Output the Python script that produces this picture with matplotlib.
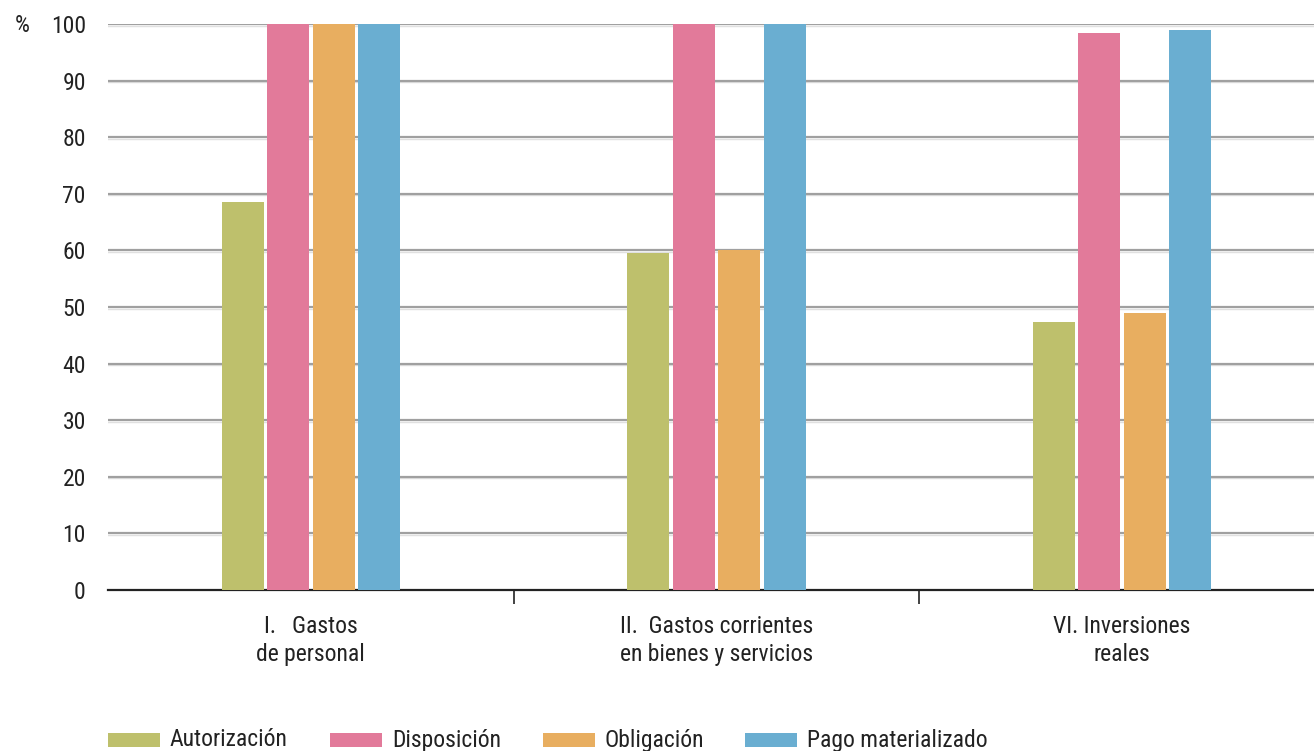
import matplotlib
matplotlib.use("Agg")
import matplotlib.pyplot as plt
from matplotlib.patches import Rectangle
from matplotlib import font_manager
import numpy as np

categories = ["I.   Gastos\nde personal",
              "II.  Gastos corrientes\nen bienes y servicios",
              "VI. Inversiones\nreales"]
series_names = ["Autorización", "Disposición", "Obligación", "Pago materializado"]
autorizacion = [68.5, 59.5, 47.4]
disposicion = [100.0, 100.0, 98.4]
obligacion = [100.0, 60.0, 49.0]
pago = [100.0, 100.0, 98.9]
yticks = [0, 10, 20, 30, 40, 50, 60, 70, 80, 90, 100]

colors = ["#bec06c", "#e27a9a", "#e8ae60", "#6aaed1"]
series = [autorizacion, disposicion, obligacion, pago]

available = {f.name for f in font_manager.fontManager.ttflist}
fams = [f for f in ['Roboto Condensed', 'Liberation Sans Narrow', 'Open Sans Condensed',
                    'DejaVu Sans Condensed', 'Roboto'] if f in available]
plt.rcParams['font.family'] = fams + ['DejaVu Sans']
condensed = fams and fams[0] != 'Roboto'
fs = 17 if condensed else 14

W, H = 1314, 751
fig = plt.figure(figsize=(W/100, H/100), dpi=100)
ax = fig.add_axes([108/W, 1-590/H, 1-108/W, (590-24)/H])

x = np.arange(len(categories))
pitch = 45.5/406
width = 42/406
for i, (vals, c) in enumerate(zip(series, colors)):
    ax.bar(x + (i-1.5)*pitch, vals, width=width, color=c, zorder=3)

ax.set_xlim(-0.5, 2.5 - 11/406)
ax.set_ylim(0, 100)
ax.set_yticks(yticks)
ax.set_yticklabels([str(t) for t in yticks], fontsize=fs, color="#222222")
for t in yticks[1:]:
    ax.axhline(t, color="#a0a0a0", lw=1.6, zorder=1)
    ax.axhline(t - 0.3, color="#e0e0e0", lw=1.0, zorder=0.9)
ax.tick_params(axis='y', length=0, pad=16)

ax.set_xticks([0.5, 1.5])
ax.set_xticklabels([])
ax.tick_params(axis='x', length=10, width=1.2, direction='out', color="#222222")
for s in ['top', 'right', 'left']:
    ax.spines[s].set_visible(False)
ax.spines['bottom'].set_color("#222222")
ax.spines['bottom'].set_linewidth(1.6)

for xi, lab in zip(x, categories):
    ax.text(xi, -4.4, lab, ha='center', va='top', fontsize=fs, color="#222222",
            linespacing=1.3, transform=ax.transData, clip_on=False)

fig.text(22/W, 1-25/H, "%", ha='center', va='center', fontsize=fs, color="#222222")

# legend
patch_x = [108, 330, 543, 745]
for px, name, c in zip(patch_x, series_names, colors):
    fig.patches.append(Rectangle((px/W, 1-747/H), 52/W, 14/H, transform=fig.transFigure,
                                 facecolor=c, edgecolor='none'))
    fig.text((px+62)/W, 1-740/H, name, ha='left', va='center', fontsize=fs, color="#222222")

fig.savefig("out.png", dpi=100)
